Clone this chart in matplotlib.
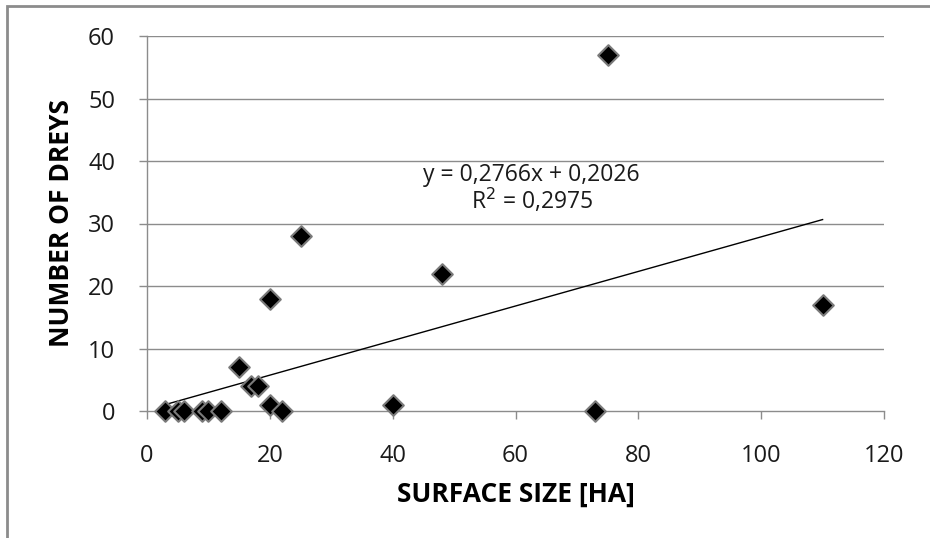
import matplotlib.pyplot as plt
from matplotlib.patches import Rectangle

# surface size [ha] and number of dreys
surface = [3, 5, 6, 9, 10, 12, 15, 17, 18, 20, 20, 22, 25, 40, 48, 73, 75, 110]
dreys = [0, 0, 0, 0, 0, 0, 7, 4, 4, 1, 18, 0, 28, 1, 22, 0, 57, 17]

slope = 0.2766
intercept = 0.2026
r2 = 0.2975

xticks = [0, 20, 40, 60, 80, 100, 120]
yticks = [0, 10, 20, 30, 40, 50, 60]

plt.rcParams['font.family'] = ['Open Sans', 'DejaVu Sans']

fig = plt.figure(figsize=(9.3, 5.38), dpi=100)
ax = fig.add_axes([147 / 930, 1 - 411 / 538, (884 - 147) / 930, (411 - 36) / 538])

ax.set_xlim(0, 120)
ax.set_ylim(0, 60)
for y in yticks[1:]:
    ax.axhline(y, color='#8c8c8c', lw=1.0, zorder=1)

for s in ['top', 'right']:
    ax.spines[s].set_visible(False)
for s in ['left', 'bottom']:
    ax.spines[s].set_color('#8c8c8c')
    ax.spines[s].set_linewidth(1.0)

ax.set_xticks(xticks)
ax.set_yticks(yticks)
ax.tick_params(axis='both', colors='#8c8c8c', labelcolor='#1a1a1a',
               labelsize=17, length=6, width=1.0, direction='out')
ax.tick_params(axis='x', pad=18)
ax.tick_params(axis='y', pad=17)

# trend line from min to max x
x0, x1 = min(surface), max(surface)
ax.plot([x0, x1], [slope * x0 + intercept, slope * x1 + intercept],
        color='black', lw=1.0, zorder=2)

ax.scatter(surface, dreys, marker='D', s=110, c='black',
           edgecolors='#7a7a7a', linewidths=1.5, zorder=3, clip_on=False)

ax.text(0.522, 0.629, 'y = {:.4f}x + {:.4f}'.format(slope, intercept).replace('.', ','),
        transform=ax.transAxes, ha='center', va='center', fontsize=16.5, color='#1a1a1a')
ax.text(0.522, 0.56, 'R$^2$ = {:.4f}'.format(r2).replace('.', ','),
        transform=ax.transAxes, ha='center', va='center', fontsize=16.5, color='#1a1a1a')

ax.set_xlabel('SURFACE SIZE [HA]', fontsize=19, fontweight='bold', va='center')
ax.set_ylabel('NUMBER OF DREYS', fontsize=19, fontweight='bold', va='center')
ax.xaxis.set_label_coords(0.5, (411 - 494) / 375)
ax.yaxis.set_label_coords((62 - 147) / 737, 0.5)

# outer chart frame (cropped at right and bottom)
fig.patches.append(Rectangle((7 / 930, -0.1), 1.2, 1 - 6 / 538 + 0.1,
                             transform=fig.transFigure, fill=False,
                             edgecolor='#8c8c8c', lw=2.0))

fig.savefig('out.png', dpi=100)
